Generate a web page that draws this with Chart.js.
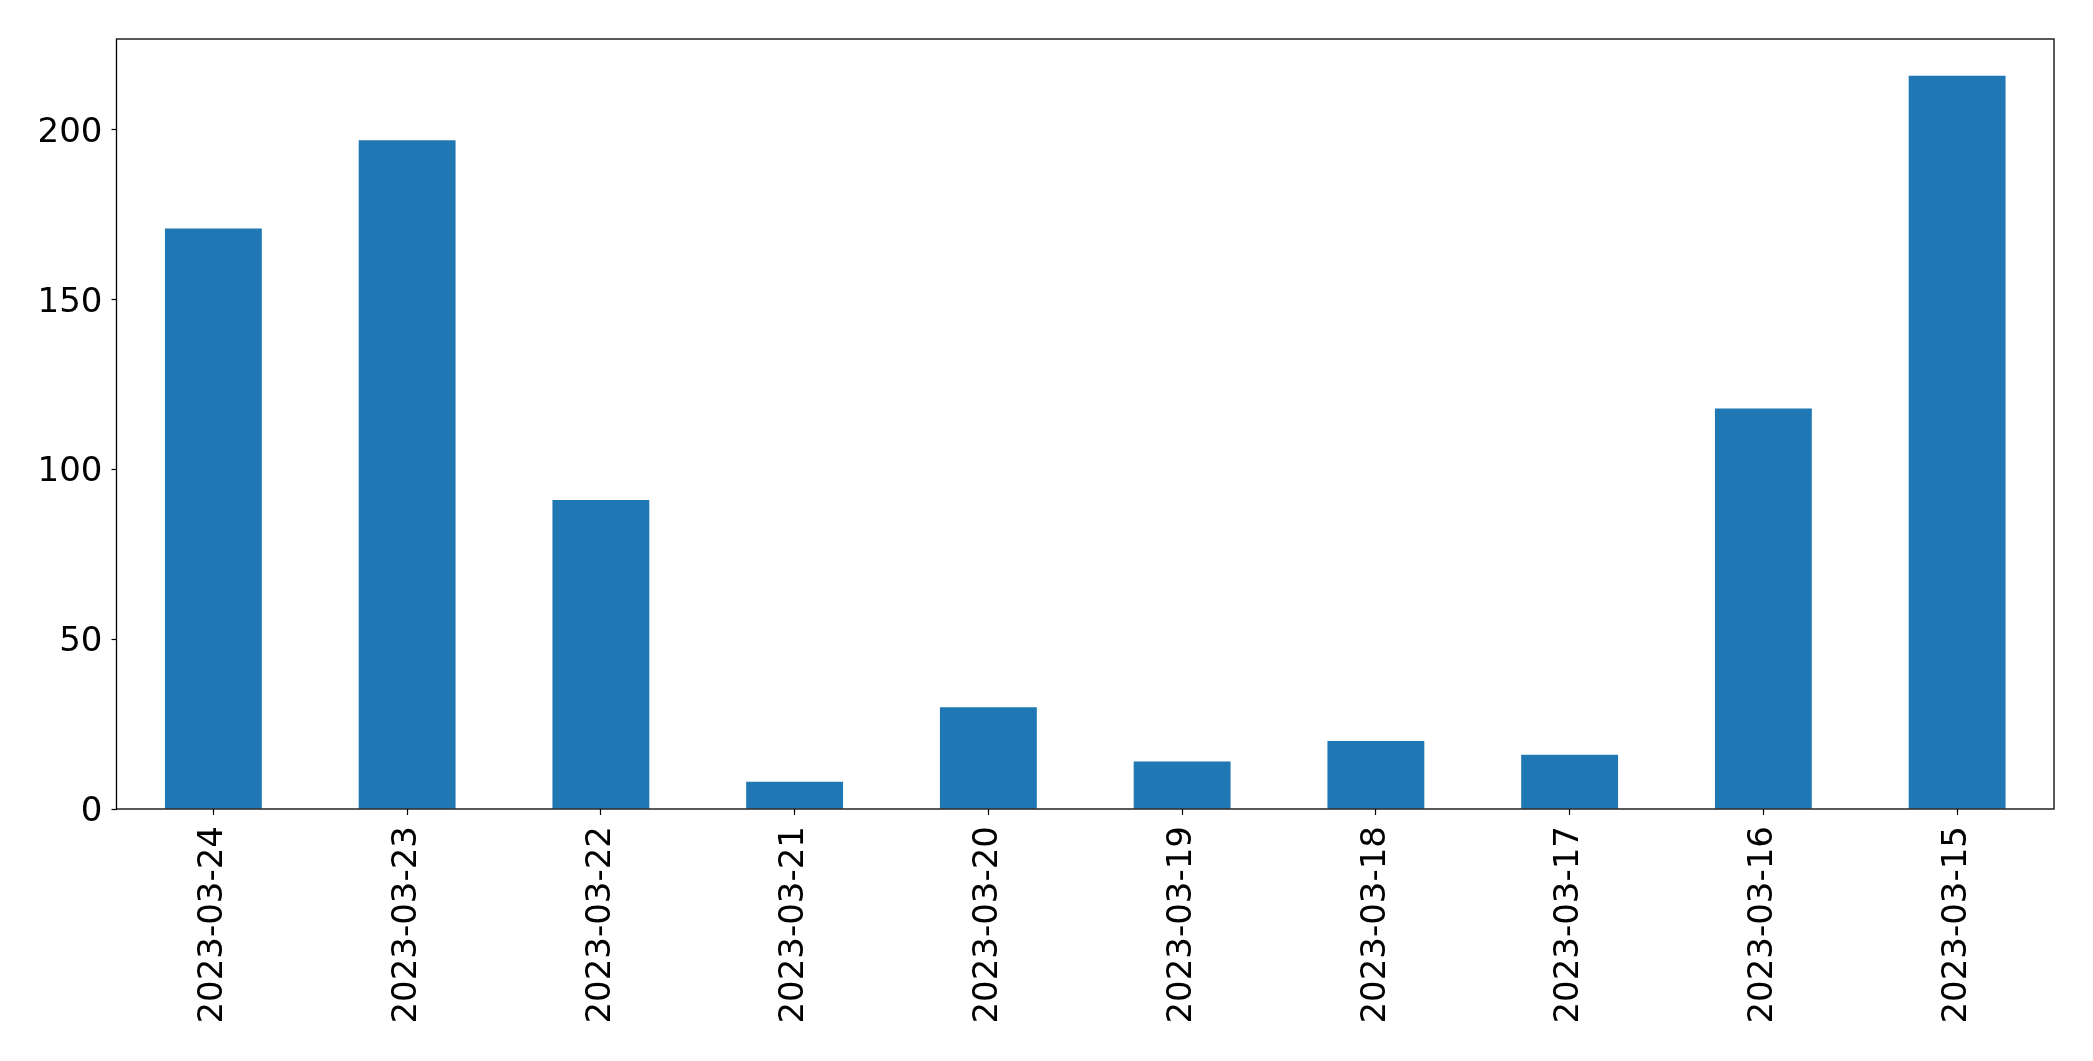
<!DOCTYPE html>
<html>
<head>
<meta charset="utf-8">
<script src="https://cdn.jsdelivr.net/npm/chart.js@4/dist/chart.umd.min.js"></script>
<style>
html,body{margin:0;padding:0;background:#fff;}
#wrap{width:2093px;height:1061px;position:relative;}
</style>
</head>
<body>
<div id="wrap"><canvas id="c" width="2093" height="1061"></canvas></div>
<script>
const categories = ["2023-03-24","2023-03-23","2023-03-22","2023-03-21","2023-03-20","2023-03-19","2023-03-18","2023-03-17","2023-03-16","2023-03-15"];
const values = [171, 197, 91, 8, 30, 14, 20, 16, 118, 216];
const yTicks = [0, 50, 100, 150, 200];

const FONT = "'DejaVu Sans', sans-serif";

const frame = {
  id: 'frame',
  afterDraw(chart) {
    const {ctx, chartArea: a} = chart;
    ctx.save();
    ctx.strokeStyle = '#000';
    ctx.lineWidth = 1.3;
    ctx.strokeRect(a.left, a.top, a.right - a.left, a.bottom - a.top);
    ctx.restore();
  }
};

new Chart(document.getElementById('c'), {
  type: 'bar',
  data: {
    labels: categories,
    datasets: [{
      data: values,
      backgroundColor: '#1f77b4',
      borderWidth: 0,
      categoryPercentage: 1.0,
      barPercentage: 0.5
    }]
  },
  options: {
    responsive: false,
    animation: false,
    devicePixelRatio: 1,
    layout: { padding: { left: 0, top: 39, right: 39, bottom: 0 } },
    plugins: { legend: { display: false }, tooltip: { enabled: false } },
    scales: {
      x: {
        offset: true,
        grid: { display: true, drawOnChartArea: false, offset: false, tickLength: 6, color: '#000', tickWidth: 1.2 },
        border: { display: false },
        ticks: { minRotation: 90, maxRotation: 90, autoSkip: false, padding: 11, color: '#000', font: { family: FONT, size: 34 } },
        afterFit(s) { s.height = 252; }
      },
      y: {
        min: 0,
        max: Math.max(...values) * 1.05,
        grid: { display: true, drawOnChartArea: false, tickLength: 5, color: '#000', tickWidth: 1.2 },
        border: { display: false },
        afterBuildTicks(s) { s.ticks = yTicks.map(v => ({ value: v })); },
        ticks: { padding: 9, labelOffset: 3, color: '#000', font: { family: FONT, size: 34 } },
        afterFit(s) { s.width = 116.5; }
      }
    }
  },
  plugins: [frame]
});
</script>
</body>
</html>
